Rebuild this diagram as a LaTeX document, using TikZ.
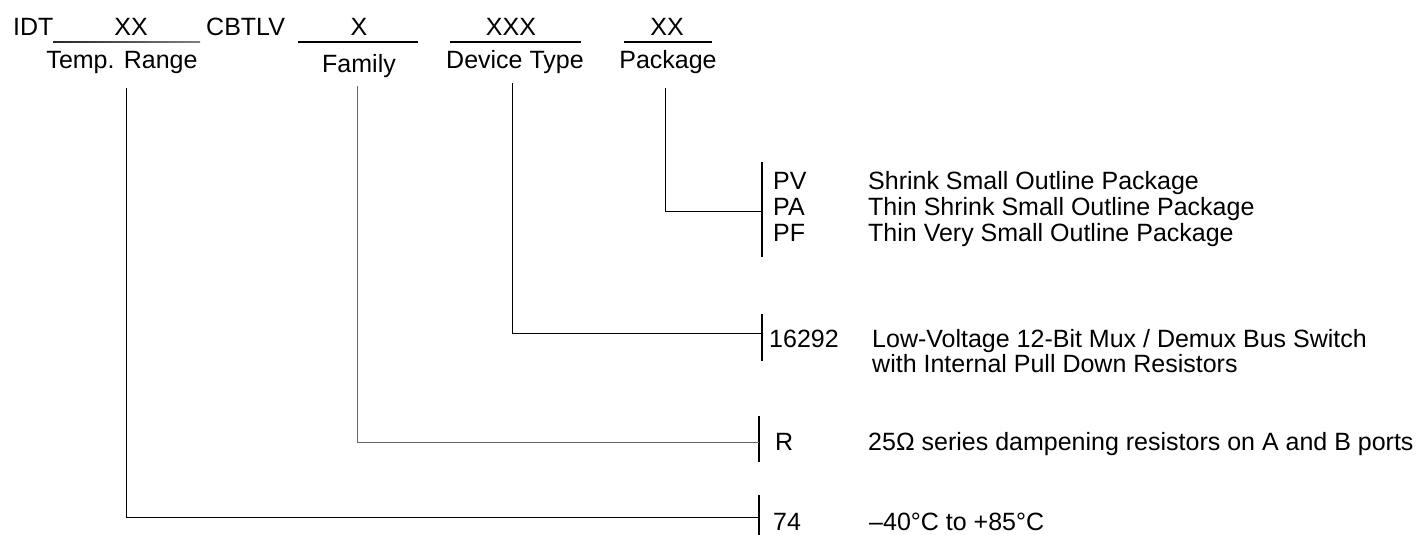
\documentclass[tikz,border=0pt]{standalone}
\usepackage{fontspec}
\setmainfont{Liberation Sans}
\begin{document}
\begin{tikzpicture}[x=1pt,y=-1pt,
  txt/.style={inner sep=0pt,anchor=base west,font=\fontsize{25}{28}\selectfont},
  ctxt/.style={inner sep=0pt,anchor=base,font=\fontsize{25}{28}\selectfont},
  uline/.style={line width=1.4pt},
  conn/.style={line width=0.9pt},
  bar/.style={line width=1.8pt},
  thinbar/.style={line width=1.1pt}]
\useasboundingbox (0,0) rectangle (1426,535);
% top row
\node[txt] (idt) at (13,36) {IDT};
\node[ctxt] (xx1) at (131,36) {XX};
\coordinate (u1a) at (53,41.3); \coordinate (u1b) at (200,42.7);
\shade[left color=black!85,right color=black!50] (u1a) rectangle (u1b);
\node[txt] (cbtlv) at (206,36) {CBTLV};
\node[ctxt] (x2) at (359,36) {X};
\coordinate (u2a) at (298,42); \coordinate (u2b) at (418,42);
\draw[uline] (u2a) -- (u2b);
\node[ctxt] (x3) at (511,36) {XXX};
\coordinate (u3a) at (450,42); \coordinate (u3b) at (581,42);
\draw[uline] (u3a) -- (u3b);
\node[ctxt] (x4) at (667,36) {XX};
\coordinate (u4a) at (624,42); \coordinate (u4b) at (712,42);
\draw[uline] (u4a) -- (u4b);
% second row
\node[ctxt] (temp) at (122,68) {Temp. Range};
\node[ctxt] (fam) at (359,73) {Family};
\node[ctxt] (dev) at (515,68) {Device Type};
\node[ctxt] (pkg) at (668,68) {Package};
% connector tops
\coordinate (t1) at (126,88);
\coordinate (t2) at (357,86);
\coordinate (t3) at (512,83);
\coordinate (t4) at (665,88);
% bars
\coordinate (b4a) at (762,162); \coordinate (b4b) at (762,257);
\coordinate (b3a) at (762,314); \coordinate (b3b) at (762,361);
\coordinate (b2a) at (759,416); \coordinate (b2b) at (759,462);
\coordinate (b1a) at (759,495); \coordinate (b1b) at (759,541);
\draw[bar] (b4a) -- (b4b);
\draw[thinbar] (b3a) -- (b3b);
\draw[bar] (b2a) -- (b2b);
\draw[bar] (b1a) -- (b1b);
\coordinate (e4) at (762,211);
\coordinate (e3) at (762,333);
\coordinate (e2) at (759,442);
\coordinate (e1) at (759,517);
\draw[conn] (t4) |- (e4);
\draw[conn] (t3) |- (e3);
\draw[conn,black!60] (t2) |- (e2);
\draw[conn] (t1) |- (e1);
% package codes
\node[txt] (pv) at (773,189) {PV};
\node[txt] (pa) at (773,215) {PA};
\node[txt] (pf) at (773,241) {PF};
\node[txt] (pvd) at (868,189) {Shrink Small Outline Package};
\node[txt] (pad) at (868,215) {Thin Shrink Small Outline Package};
\node[txt] (pfd) at (868,241) {Thin Very Small Outline Package};
% device
\node[txt] (dt) at (769,347) {16292};
\node[txt] (dtd1) at (872,347) {Low-Voltage 12-Bit Mux / Demux Bus Switch};
\node[txt] (dtd2) at (872,372) {with Internal Pull Down Resistors};
% family
\node[txt] (fr) at (775,450) {R};
\node[txt] (frd) at (868,450) {25Ω series dampening resistors on A and B ports};
% temp
\node[txt] (tr) at (773,530) {74};
\node[txt] (trd) at (869,530) {–40°C to +85°C};
\end{tikzpicture}
\end{document}
